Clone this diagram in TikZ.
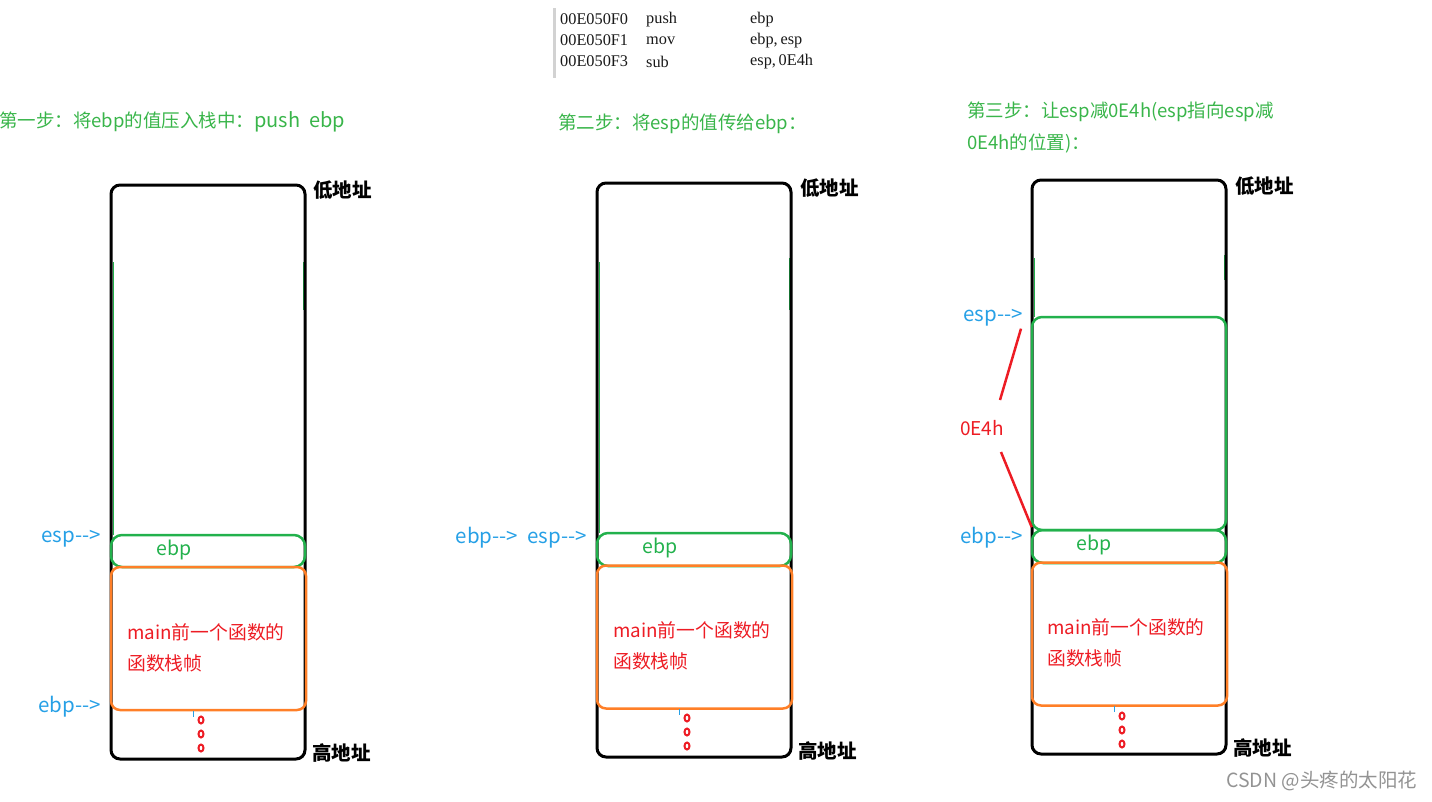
\documentclass[tikz,border=0pt]{standalone}
\usepackage{fontspec}
\setmainfont{Noto Sans CJK SC}
\newfontfamily\codefont{Liberation Serif}
\usepackage{tikz}
\usetikzlibrary{arrows.meta, positioning, calc}

\definecolor{pgreen}{RGB}{34,177,76}
\definecolor{tgreen}{RGB}{57,181,74}
\definecolor{pblue}{RGB}{38,160,230}
\definecolor{pred}{RGB}{237,28,36}
\definecolor{porange}{RGB}{255,127,39}

\tikzset{
  stack/.style={draw=black, line width=3, rounded corners=9, minimum width=194, minimum height=574, inner sep=0},
  slot/.style={draw=pgreen, line width=2.5, rounded corners=11, minimum width=194, inner sep=0},
  frame/.style={draw=porange, line width=2.5, rounded corners=9, minimum width=195, minimum height=143, inner sep=0},
  title/.style={text=tgreen, anchor=west, inner sep=0, font=\fontsize{18.5}{32}\selectfont},
  ptr/.style={text=pblue, anchor=east, inner sep=0, font=\fontsize{20.5}{22}\selectfont},
  addr/.style={anchor=west, inner sep=0, font=\fontsize{19.5}{22}\selectfont\bfseries},
  gtext/.style={text=pgreen, inner sep=0, font=\fontsize{19.5}{22}\selectfont},
  rtext/.style={text=pred, anchor=west, align=left, inner sep=0, font=\fontsize{18.8}{31}\selectfont},
  code/.style={anchor=west, inner sep=0, text=black!90, font=\codefont\fontsize{16.3}{18}\selectfont},
  redline/.style={draw=pred, line width=2.5},
  trace/.style={draw=pgreen, line width=1.5}
}

\begin{document}
\begin{tikzpicture}[x=1pt, y=-1pt]
    \useasboundingbox (0,0) rectangle (1432,801);

    % disassembly
    \draw[gray!35, line width=3] (554,8) -- (554,78);
    \foreach \y/\a/\b/\c in {18/00E050F0/push/ebp, 39/00E050F1/mov/{ebp,\,esp}, 60/00E050F3/sub/{esp,\,0E4h}} {
        \node[code] (ad\y) at (560,\y+1.5) {\a};
        \node[code] (op\y) at (646,\y+1.5) {\b};
        \node[code] (ar\y) at (750,\y+1.5) {\c};
    }

    % step 1
    \node[title] (t1) at (-1,122) {第一步：将ebp的值压入栈中：{\fontsize{20}{22}\selectfont push\ \ ebp}};
    \draw[trace] (113.5,262) -- (113.5,535);
    \draw[trace] (303.5,262) -- (303.5,310);
    \node[stack] (s1) at (208,472) {};
    \node[slot, minimum height=32] (e1) at (208,551) {};
    \node[frame] (f1) at (208.5,638.5) {};
    \node[gtext] (v1) at (174,550) {ebp};
    \node[rtext] (m1) at (127,648) {main前一个函数的\\函数栈帧};
    \node[ptr] (sp1) at (101,539) {esp-{}->};
    \node[ptr] (bp1) at (101,707) {ebp-{}->};
    \node[addr] (lo1) at (313,190) {低地址};
    \node[addr] (hi1) at (312,753) {高地址};
    \draw[pblue] (193,711) -- (193,717);
    \foreach \y in {720,734,748}
        \draw[pred, line width=2] (201,\y) ellipse [x radius=2.5, y radius=3.5];

    % step 2
    \node[title] (t2) at (558,124) {第二步：将esp的值传给ebp：};
    \draw[trace] (599.5,262) -- (599.5,533);
    \draw[trace] (789.5,258) -- (789.5,310);
    \node[stack] (s2) at (694,470) {};
    \node[slot, minimum height=33] (e2) at (694,549.5) {};
    \node[frame] (f2) at (694.5,637) {};
    \node[gtext] (v2) at (660,548) {ebp};
    \node[rtext] (m2) at (613,646) {main前一个函数的\\函数栈帧};
    \node[ptr] (sp2) at (587,538) {ebp-{}-> \ esp-{}->};
    \node[addr] (lo2) at (800,188) {低地址};
    \node[addr] (hi2) at (798,751) {高地址};
    \draw[pblue] (679,709) -- (679,715);
    \foreach \y in {718,732,746}
        \draw[pred, line width=2] (687,\y) ellipse [x radius=2.5, y radius=3.5];

    % step 3
    \node[title, align=left] (t3) at (967,127) {第三步：让esp减0E4h(esp指向esp减\\0E4h的位置)：};
    \draw[trace] (1034.5,258) -- (1034.5,317);
    \draw[trace] (1224.5,255) -- (1224.5,280);
    \node[stack] (s3) at (1129,467) {};
    \node[slot, rounded corners=10, minimum height=213] (g3) at (1129,423.5) {};
    \node[slot, minimum height=33] (e3) at (1129,546.5) {};
    \node[frame] (f3) at (1129.5,634) {};
    \node[gtext] (v3) at (1094,545) {ebp};
    \node[rtext] (m3) at (1047,643) {main前一个函数的\\函数栈帧};
    \node[ptr] (sp3) at (1023,318) {esp-{}->};
    \node[ptr] (bp3) at (1023,538) {ebp-{}->};
    \node[text=pred, inner sep=0, font=\fontsize{19}{22}\selectfont] (len) at (982,428) {0E4h};
    \draw[redline] ($(len)+(18,-28)$) -- ($(sp3.south east)+(-2,2)$);
    \draw[redline] ($(len)+(19,24)$) -- ($(g3.south west)+(1,-4)$);
    \node[addr] (lo3) at (1235,186) {低地址};
    \node[addr] (hi3) at (1233,748) {高地址};
    \draw[pblue] (1114,706) -- (1114,712);
    \foreach \y in {716,730,744}
        \draw[pred, line width=2] (1122,\y) ellipse [x radius=2.5, y radius=3.5];

    \node[anchor=west, inner sep=0, text=gray!85, font=\fontsize{19.5}{22}\selectfont] (wm) at (1226,781) {CSDN @头疼的太阳花};
\end{tikzpicture}
\end{document}
